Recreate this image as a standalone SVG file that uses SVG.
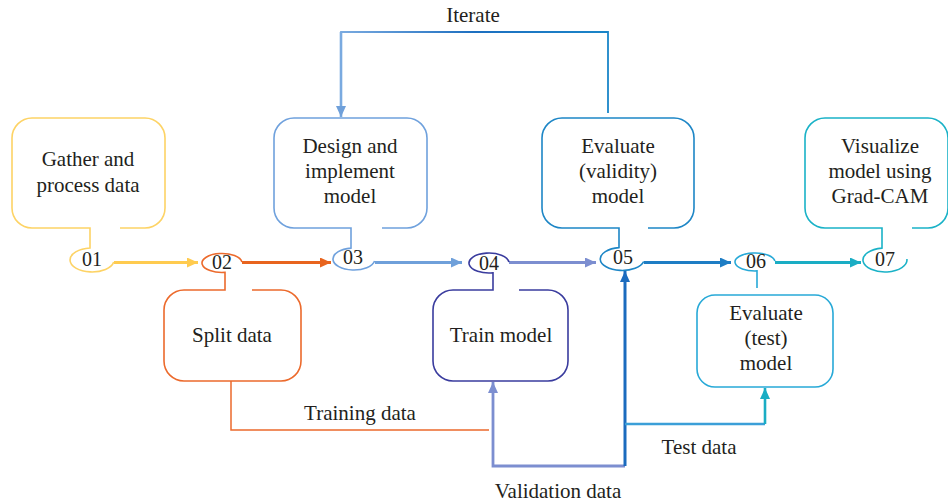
<svg xmlns="http://www.w3.org/2000/svg" width="948" height="504" viewBox="0 0 948 504">
  <style>
    .lbl { font-family: "Liberation Serif", "DejaVu Serif", serif; font-size: 21px; fill: #231F20; text-anchor: middle; }
    .num { font-family: "Liberation Serif", "DejaVu Serif", serif; font-size: 20px; fill: #231F20; text-anchor: middle; }
    .node path, .node rect { fill: none; stroke-width: 1.6; }
    .conn path { fill: none; }
  </style>
  <defs>
    <marker id="ah-yellow" markerUnits="userSpaceOnUse" markerWidth="12" markerHeight="10" refX="11" refY="5" orient="auto"><path d="M0,0 L11,5 L0,10 Z" fill="#FFCB4F"/></marker>
    <marker id="ah-orange" markerUnits="userSpaceOnUse" markerWidth="12" markerHeight="10" refX="11" refY="5" orient="auto"><path d="M0,0 L11,5 L0,10 Z" fill="#E8641E"/></marker>
    <marker id="ah-lblue" markerUnits="userSpaceOnUse" markerWidth="12" markerHeight="10" refX="11" refY="5" orient="auto"><path d="M0,0 L11,5 L0,10 Z" fill="#6FA0DA"/></marker>
    <marker id="ah-peri" markerUnits="userSpaceOnUse" markerWidth="12" markerHeight="10" refX="11" refY="5" orient="auto"><path d="M0,0 L11,5 L0,10 Z" fill="#7C8ED0"/></marker>
    <marker id="ah-blue" markerUnits="userSpaceOnUse" markerWidth="12" markerHeight="10" refX="11" refY="5" orient="auto"><path d="M0,0 L11,5 L0,10 Z" fill="#1E7DC4"/></marker>
    <marker id="ah-dblue" markerUnits="userSpaceOnUse" markerWidth="12" markerHeight="10" refX="11" refY="5" orient="auto"><path d="M0,0 L11,5 L0,10 Z" fill="#1B6BBE"/></marker>
    <marker id="ah-cyan" markerUnits="userSpaceOnUse" markerWidth="12" markerHeight="10" refX="11" refY="5" orient="auto"><path d="M0,0 L11,5 L0,10 Z" fill="#1AADC4"/></marker>
    <linearGradient id="iter-grad" gradientUnits="userSpaceOnUse" x1="341" y1="0" x2="608" y2="0">
      <stop offset="0" stop-color="#7AAAE0"/>
      <stop offset="0.5" stop-color="#1D6FC0"/>
      <stop offset="1" stop-color="#1A85C8"/>
    </linearGradient>
  </defs>

  <!-- connectors -->
  <g id="connectors" class="conn">
    <path d="M114,262.5 H198" stroke="#FFCB4F" stroke-width="2.8" marker-end="url(#ah-yellow)"/>
    <path d="M242,262.5 H331" stroke="#E8641E" stroke-width="3" marker-end="url(#ah-orange)"/>
    <path d="M375,262.5 H462" stroke="#6FA0DA" stroke-width="2.8" marker-end="url(#ah-lblue)"/>
    <path d="M509,262.5 H596" stroke="#7C8ED0" stroke-width="2.8" marker-end="url(#ah-peri)"/>
    <path d="M644,262.5 H731" stroke="#1E7DC4" stroke-width="2.8" marker-end="url(#ah-blue)"/>
    <path d="M775,262.5 H861" stroke="#1AADC4" stroke-width="2.8" marker-end="url(#ah-cyan)"/>
    <!-- iterate loop back to design -->
    <path d="M608,113 V32 H341 V117" stroke="url(#iter-grad)" stroke-width="1.8"/>
    <path d="M341,32 V117" stroke="#7AAAE0" stroke-width="2.6" marker-end="url(#ah-lblue)"/>
    <!-- training data -->
    <path d="M231,381 V430 H489" stroke="#EC6A2C" stroke-width="1.5"/>
    <!-- validation data -->
    <path d="M625,466 H493 V382" stroke="#7C8ED0" stroke-width="2.8" marker-end="url(#ah-peri)"/>
    <path d="M625,466 V271" stroke="#1B6BBE" stroke-width="3" marker-end="url(#ah-dblue)"/>
    <!-- test data -->
    <path d="M625,424 H765" stroke="#3B9FD8" stroke-width="2.4"/>
    <path d="M765,424 V388" stroke="#1AADC4" stroke-width="2.6" marker-end="url(#ah-cyan)"/>
  </g>

  <g id="node-01" class="node">
    <path stroke="#FDD365" d="M120,228 H145 A20,20 0 0,0 165,208 V138 A20,20 0 0,0 145,118 H32 A20,20 0 0,0 12,138 V208 A20,20 0 0,0 32,228 H90 V248 A22,12 0 1,0 113.7,262"/>
    <text class="lbl" x="88" y="166">Gather and</text>
    <text class="lbl" x="88" y="192">process data</text>
    <text class="num" x="92" y="266">01</text>
  </g>

  <g id="node-02" class="node">
    <path stroke="#EC6A2C" d="M252,290 H281 A20,20 0 0,1 301,310 V361 A20,20 0 0,1 281,381 H184 A20,20 0 0,1 164,361 V310 A20,20 0 0,1 184,290 H225 V272.4 A20,9.5 0 1,1 241.9,262"/>
    <text class="lbl" x="232" y="342">Split data</text>
    <text class="num" x="222" y="269">02</text>
  </g>

  <g id="node-03" class="node">
    <path stroke="#6FA1DD" d="M382,228 H407 A20,20 0 0,0 427,208 V138 A20,20 0 0,0 407,118 H294 A20,20 0 0,0 274,138 V208 A20,20 0 0,0 294,228 H351 V248.1 A21,11 0 1,0 374.6,261"/>
    <text class="lbl" x="350" y="153">Design and</text>
    <text class="lbl" x="350" y="178">implement</text>
    <text class="lbl" x="350" y="203">model</text>
    <text class="num" x="353" y="264">03</text>
  </g>

  <g id="node-04" class="node">
    <path stroke="#3A3C9E" d="M519,290 H548 A20,20 0 0,1 568,310 V361 A20,20 0 0,1 548,381 H453 A20,20 0 0,1 433,361 V310 A20,20 0 0,1 453,290 H493 V272.8 A20,10 0 1,1 508.9,262"/>
    <text class="lbl" x="501" y="342">Train model</text>
    <text class="num" x="489" y="270">04</text>
  </g>

  <g id="node-05" class="node">
    <path stroke="#1D86C6" d="M648,228 H674 A20,20 0 0,0 694,208 V138 A20,20 0 0,0 674,118 H562 A20,20 0 0,0 542,138 V208 A20,20 0 0,0 562,228 H619 V247.6 A22,11.5 0 1,0 643.7,261.5"/>
    <text class="lbl" x="618" y="153">Evaluate</text>
    <text class="lbl" x="618" y="178">(validity)</text>
    <text class="lbl" x="618" y="203">model</text>
    <text class="num" x="623" y="264">05</text>
  </g>

  <g id="node-06" class="node">
    <rect x="697" y="295" width="136" height="92" rx="18" stroke="#27A9D7"/>
    <path stroke="#27A9D7" d="M757,288 V270.9 A20,9 0 1,1 774.9,261"/>
    <text class="lbl" x="766" y="320">Evaluate</text>
    <text class="lbl" x="766" y="345">(test)</text>
    <text class="lbl" x="766" y="370">model</text>
    <text class="num" x="756" y="268">06</text>
  </g>

  <g id="node-07" class="node">
    <path stroke="#1AB2C7" d="M912,228 H928 A20,20 0 0,0 948,208 V138 A20,20 0 0,0 928,118 H825 A20,20 0 0,0 805,138 V208 A20,20 0 0,0 825,228 H882 V248.1 A22,12 0 1,0 906.9,259"/>
    <text class="lbl" x="880" y="153">Visualize</text>
    <text class="lbl" x="880" y="178">model using</text>
    <text class="lbl" x="880" y="203">Grad-CAM</text>
    <text class="num" x="885" y="266">07</text>
  </g>

  <g id="labels">
    <text class="lbl" x="473" y="22">Iterate</text>
    <text class="lbl" x="360" y="420">Training data</text>
    <text class="lbl" x="558" y="498">Validation data</text>
    <text class="lbl" x="699" y="454">Test data</text>
  </g>
</svg>
